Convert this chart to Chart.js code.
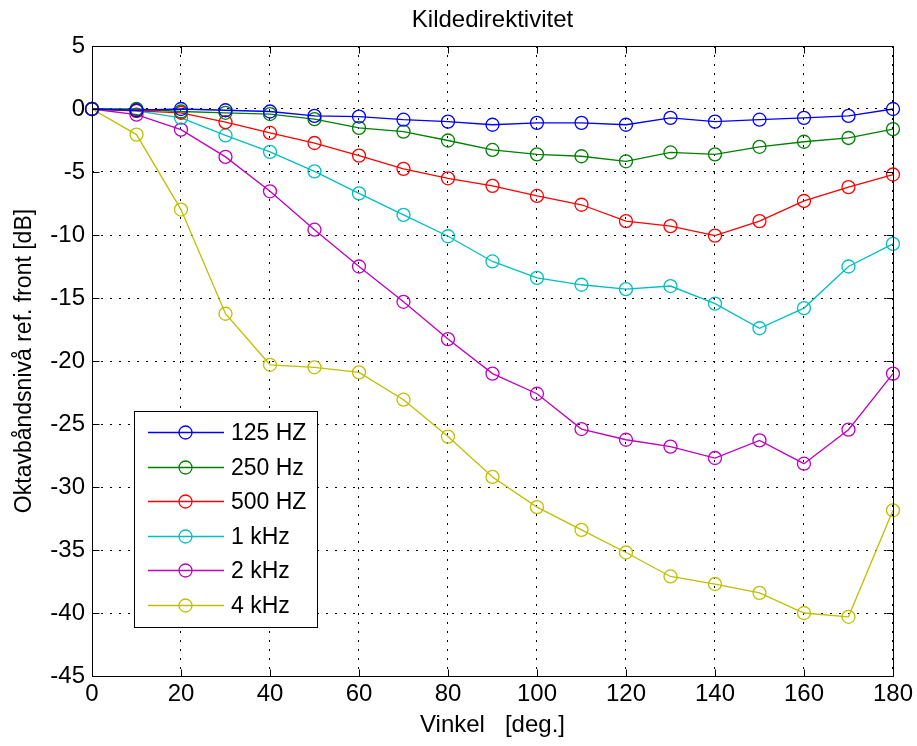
<!DOCTYPE html>
<html>
<head>
<meta charset="utf-8">
<script src="https://cdn.jsdelivr.net/npm/chart.js@4/dist/chart.umd.min.js"></script>
<style>
html,body{margin:0;padding:0;background:#fff;}
#wrap{width:917px;height:746px;position:relative;}
</style>
</head>
<body>
<div id="wrap"><canvas id="c" width="917" height="746"></canvas></div>
<script>
const angles = [0,10,20,30,40,50,60,70,80,90,100,110,120,130,140,150,160,170,180];
const s125 = [0,-0.1,0,-0.1,-0.2,-0.55,-0.6,-0.85,-1.0,-1.25,-1.1,-1.1,-1.25,-0.7,-1.0,-0.85,-0.7,-0.55,0];
const s250 = [0,0,-0.2,-0.3,-0.4,-0.8,-1.5,-1.8,-2.5,-3.25,-3.6,-3.75,-4.15,-3.45,-3.6,-3.0,-2.6,-2.3,-1.6];
const s500 = [0,-0.15,-0.3,-1.05,-1.9,-2.7,-3.7,-4.75,-5.5,-6.1,-6.9,-7.6,-8.9,-9.3,-10.05,-8.9,-7.3,-6.2,-5.2];
const s1k  = [0,-0.15,-0.7,-2.1,-3.4,-4.95,-6.7,-8.4,-10.1,-12.1,-13.4,-13.95,-14.3,-14.05,-15.45,-17.4,-15.8,-12.5,-10.7];
const s2k  = [0,-0.45,-1.64,-3.8,-6.53,-9.58,-12.5,-15.3,-18.26,-21.0,-22.6,-25.4,-26.25,-26.8,-27.7,-26.3,-28.15,-25.45,-21.0];
const s4k  = [0,-2.03,-7.98,-16.25,-20.3,-20.5,-20.9,-23.07,-26.0,-29.2,-31.6,-33.4,-35.2,-37.1,-37.7,-38.4,-40.0,-40.3,-31.85];
const seriesLabels = ['125 HZ','250 Hz','500 HZ','1 kHz','2 kHz','4 kHz'];
const seriesColors = ['#0000FF','#008000','#FF0000','#00BFBF','#BF00BF','#BFBF00'];
const seriesValues = [s125,s250,s500,s1k,s2k,s4k];
const titleText = 'Kildedirektivitet';
const xTitle = 'Vinkel   [deg.]';
const yTitle = 'Oktavbåndsnivå ref. front [dB]';

const FONT = '"Liberation Sans","Arial",sans-serif';

const datasets = seriesValues.map((vals,i)=>({
  label: seriesLabels[i],
  data: vals.map((v,j)=>({x:angles[j], y:v})),
  borderColor: seriesColors[i],
  backgroundColor: 'rgba(0,0,0,0)',
  borderWidth: 1.3,
  pointStyle: 'circle',
  pointRadius: 6.5,
  pointHoverRadius: 6.5,
  pointBorderWidth: 1.3,
  pointBorderColor: seriesColors[i],
  pointBackgroundColor: 'rgba(0,0,0,0)',
  tension: 0,
  clip: false
}));

const framePlugin = {
  id: 'frame',
  afterDraw(chart){
    const ctx = chart.ctx;
    const a = chart.chartArea;
    const xs = chart.scales.x, ys = chart.scales.y;
    ctx.save();
    ctx.strokeStyle = '#000';
    ctx.lineWidth = 1;
    ctx.beginPath();
    const L = Math.round(a.left)+0.5, R = Math.round(a.right)+0.5, T = Math.round(a.top)+0.5, B = Math.round(a.bottom)+0.5;
    ctx.rect(L, T, R-L, B-T);
    const tl = 7;
    xs.ticks.forEach(t=>{
      const p = Math.round(xs.getPixelForValue(t.value))+0.5;
      ctx.moveTo(p,B); ctx.lineTo(p,B-tl);
      ctx.moveTo(p,T); ctx.lineTo(p,T+tl);
    });
    ys.ticks.forEach(t=>{
      const p = Math.round(ys.getPixelForValue(t.value))+0.5;
      ctx.moveTo(L,p); ctx.lineTo(L+tl,p);
      ctx.moveTo(R,p); ctx.lineTo(R-tl,p);
    });
    ctx.stroke();

    // title
    ctx.fillStyle = '#000';
    ctx.font = '24px ' + FONT;
    ctx.textAlign = 'center';
    ctx.textBaseline = 'middle';
    ctx.fillText(titleText, (a.left+a.right)/2, 20);

    // legend
    const bx = 134.5, by = 411.5, bw = 183, bh = 216;
    ctx.fillStyle = '#fff';
    ctx.fillRect(bx, by, bw, bh);
    ctx.strokeStyle = '#000';
    ctx.strokeRect(bx, by, bw, bh);
    ctx.font = '23px ' + FONT;
    ctx.textAlign = 'left';
    chart.data.datasets.forEach((ds,i)=>{
      const y = Math.round(432 + i*34.6)+0.5;
      ctx.strokeStyle = ds.borderColor;
      ctx.lineWidth = 1.3;
      ctx.beginPath();
      ctx.moveTo(148,y); ctx.lineTo(224,y);
      ctx.stroke();
      ctx.beginPath();
      ctx.arc(185.5,y,6.5,0,Math.PI*2);
      ctx.stroke();
      ctx.fillStyle = '#000';
      ctx.fillText(ds.label, 231, y+1);
    });
    ctx.restore();
  }
};

new Chart(document.getElementById('c'), {
  type: 'line',
  data: { datasets },
  options: {
    responsive: false,
    animation: false,
    events: [],
    layout: { padding: { left: 0, right: 23, top: 46, bottom: 0 } },
    plugins: { legend: { display: false }, title: { display: false }, tooltip: { enabled: false } },
    scales: {
      x: {
        type: 'linear', min: 0, max: 180,
        ticks: { stepSize: 20, color: '#000', font: { family: FONT, size: 24 }, padding: 4, maxRotation: 0 },
        grid: { color: '#000', lineWidth: 1, drawTicks: false },
        border: { display: false, dash: [2, 7] },
        title: { display: true, text: xTitle, color: '#000', font: { family: FONT, size: 24 }, padding: { top: 0, bottom: 6 } },
        afterFit(s){ s.height = 70; }
      },
      y: {
        type: 'linear', min: -45, max: 5,
        ticks: { stepSize: 5, color: '#000', font: { family: FONT, size: 24 }, padding: 7 },
        grid: { color: '#000', lineWidth: 1, drawTicks: false },
        border: { display: false, dash: [2, 7] },
        title: { display: true, text: yTitle, color: '#000', font: { family: FONT, size: 23 }, padding: { top: 11, bottom: 0 } },
        afterFit(s){ s.width = 92; }
      }
    }
  },
  plugins: [framePlugin]
});
</script>
</body>
</html>
